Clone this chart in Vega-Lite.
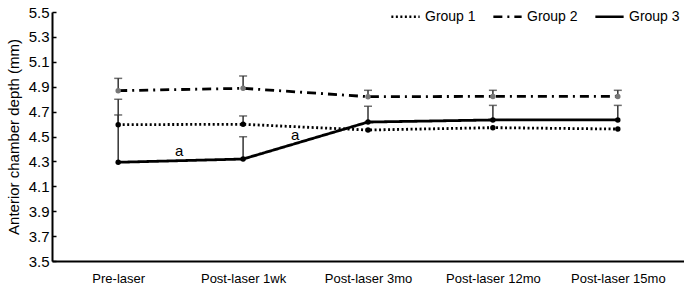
{
  "$schema": "https://vega.github.io/schema/vega-lite/v6.json",
  "width": 632,
  "height": 249,
  "autosize": {"type": "none"},
  "padding": {"left": 52, "top": 12, "right": 0, "bottom": 28},
  "background": "white",
  "datasets": {
    "main": [
      {"time": "Pre-laser", "group": "Group 1", "mean": 4.595, "hi": 4.673},
      {"time": "Post-laser 1wk", "group": "Group 1", "mean": 4.598, "hi": 4.665},
      {"time": "Post-laser 3mo", "group": "Group 1", "mean": 4.552, "hi": null},
      {"time": "Post-laser 12mo", "group": "Group 1", "mean": 4.571, "hi": null},
      {"time": "Post-laser 15mo", "group": "Group 1", "mean": 4.56, "hi": null},
      {"time": "Pre-laser", "group": "Group 2", "mean": 4.868, "hi": 4.967},
      {"time": "Post-laser 1wk", "group": "Group 2", "mean": 4.887, "hi": 4.986},
      {"time": "Post-laser 3mo", "group": "Group 2", "mean": 4.82, "hi": 4.871},
      {"time": "Post-laser 12mo", "group": "Group 2", "mean": 4.822, "hi": 4.871},
      {"time": "Post-laser 15mo", "group": "Group 2", "mean": 4.822, "hi": 4.871},
      {"time": "Pre-laser", "group": "Group 3", "mean": 4.293, "hi": 4.799},
      {"time": "Post-laser 1wk", "group": "Group 3", "mean": 4.319, "hi": 4.498},
      {"time": "Post-laser 3mo", "group": "Group 3", "mean": 4.616, "hi": 4.743},
      {"time": "Post-laser 12mo", "group": "Group 3", "mean": 4.633, "hi": 4.75},
      {"time": "Post-laser 15mo", "group": "Group 3", "mean": 4.633, "hi": 4.75}
    ]
  },
  "data": {"name": "main"},
  "encoding": {
    "x": {
      "field": "time", "type": "ordinal",
      "sort": ["Pre-laser", "Post-laser 1wk", "Post-laser 3mo", "Post-laser 12mo", "Post-laser 15mo"],
      "scale": {"type": "point", "padding": 0.53},
      "axis": {"title": null, "labelAngle": 0, "ticks": false, "labelFontSize": 13, "labelPadding": 11, "labelOverlap": false}
    }
  },
  "layer": [
    {
      "transform": [{"filter": "datum.hi != null"}],
      "mark": {"type": "rule", "color": "#333", "strokeWidth": 1.5},
      "encoding": {
        "y": {
          "field": "mean", "type": "quantitative",
          "scale": {"domain": [3.5, 5.5], "nice": false, "zero": false},
          "axis": {
            "title": "Anterior chamber depth (mm)", "titleFontSize": 15, "titleFontWeight": "normal", "titlePadding": 7,
            "values": [3.5, 3.7, 3.9, 4.1, 4.3, 4.5, 4.7, 4.9, 5.1, 5.3, 5.5],
            "format": ".1f", "labelFontSize": 15, "labelOverlap": false, "labelFlush": false, "labelBound": false,
            "tickSize": -4, "tickColor": "black", "tickWidth": 1.5, "labelPadding": 7
          }
        },
        "y2": {"field": "hi"}
      }
    },
    {
      "transform": [{"filter": "datum.hi != null"}],
      "mark": {"type": "tick", "color": "#333", "thickness": 1.5, "size": 8, "orient": "horizontal"},
      "encoding": {
        "y": {"field": "hi", "type": "quantitative"}
      }
    },
    {
      "mark": {"type": "line", "strokeWidth": 2.8},
      "encoding": {
        "y": {"field": "mean", "type": "quantitative"},
        "color": {"field": "group", "type": "nominal", "scale": {"range": ["black", "black", "black"]}},
        "strokeDash": {
          "field": "group", "type": "nominal",
          "scale": {"range": [[2, 2.5], [9, 5, 2, 5], [1, 0]]}
        }
      }
    },
    {
      "mark": {"type": "point", "filled": true, "size": 30, "opacity": 1},
      "encoding": {
        "y": {"field": "mean", "type": "quantitative"},
        "fill": {"field": "group", "type": "nominal", "scale": {"range": ["black", "#777", "black"]}, "legend": null},
        "shape": {"value": "circle"}
      }
    },
    {
      "data": {"values": [{"time": "Pre-laser", "v": 4.386}]},
      "mark": {"type": "text", "text": "a", "dx": 61, "fontSize": 15, "baseline": "middle"},
      "encoding": {"y": {"field": "v", "type": "quantitative"}}
    },
    {
      "data": {"values": [{"time": "Post-laser 1wk", "v": 4.512}]},
      "mark": {"type": "text", "text": "a", "dx": 52, "fontSize": 15, "baseline": "middle"},
      "encoding": {"y": {"field": "v", "type": "quantitative"}}
    }
  ],
  "resolve": {"scale": {"fill": "independent"}},
  "config": {
    "view": {"stroke": null},
    "font": "Liberation Sans",
    "axis": {"grid": false, "domainColor": "black", "domainWidth": 2, "labelColor": "black", "titleColor": "black"},
    "axisX": {"labelOverlap": false},
    "axisY": {"labelOverlap": false, "tickCount": 11},
    "legend": {
      "orient": "none", "legendX": 338, "legendY": -11, "direction": "horizontal",
      "title": null, "symbolType": "stroke", "symbolSize": 800, "symbolStrokeWidth": 2.5,
      "labelFontSize": 14, "labelColor": "black", "labelOffset": 4, "columnPadding": 12
    }
  }
}
